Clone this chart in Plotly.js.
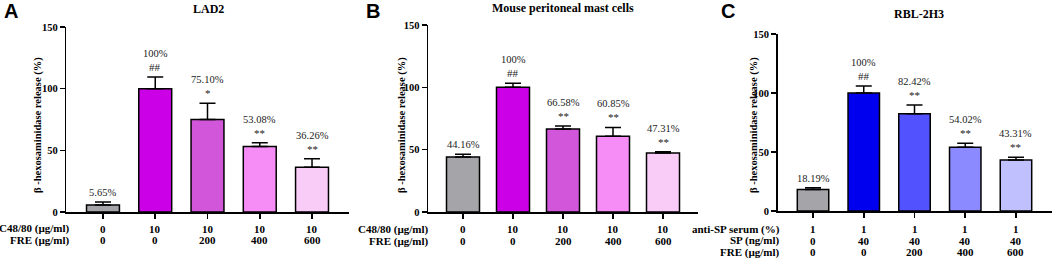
<!DOCTYPE html>
<html>
<head>
<meta charset="utf-8">
<script src="https://cdn.plot.ly/plotly-3.0.1.min.js"></script>
<style>html,body{margin:0;padding:0;background:#fff;}#chart{width:1052px;height:262px;}</style>
</head>
<body>
<div id="chart"></div>
<script>
// ---- data ----
const groups = [0, 1, 2, 3, 4];

const titleA = 'LAD2';
const valsA = [5.65, 100, 75.10, 53.08, 36.26];
const errA = [2.5, 9.5, 13, 3, 7];
const pctA = ['5.65%', '100%', '75.10%', '53.08%', '36.26%'];
const sigA = ['', '##', '*', '**', '**'];
const rowHeadA = ['C48/80 (µg/ml)', 'FRE (µg/ml)'];
const c4880A = ['0', '10', '10', '10', '10'];
const freA = ['0', '0', '200', '400', '600'];

const titleB = 'Mouse peritoneal mast cells';
const valsB = [44.16, 100, 66.58, 60.85, 47.31];
const errB = [2.1, 3.2, 2.4, 7, 1];
const pctB = ['44.16%', '100%', '66.58%', '60.85%', '47.31%'];
const sigB = ['', '##', '**', '**', '**'];
const rowHeadB = ['C48/80 (µg/ml)', 'FRE (µg/ml)'];
const c4880B = ['0', '10', '10', '10', '10'];
const freB = ['0', '0', '200', '400', '600'];

const titleC = 'RBL-2H3';
const valsC = [18.19, 100, 82.42, 54.02, 43.31];
const errC = [1.5, 6, 7.4, 3.4, 2.2];
const pctC = ['18.19%', '100%', '82.42%', '54.02%', '43.31%'];
const sigC = ['', '##', '**', '**', '**'];
const rowHeadC = ['anti-SP serum (%)', 'SP (ng/ml)', 'FRE (µg/ml)'];
const antiSPC = ['1', '1', '1', '1', '1'];
const spC = ['0', '40', '40', '40', '40'];
const freC = ['0', '0', '200', '400', '600'];

const yTitle = 'β -hexosaminidase release (%)';
const yTicks = [0, 50, 100, 150];

// ---- styles ----
const colorsPink = ['#a4a4a9', '#cc00e6', '#d156d9', '#f68cf6', '#f9ccf8'];
const colorsBlue = ['#a4a4a9', '#0000ee', '#5252ff', '#8b8bff', '#c0c0ff'];
const SERIF = 'Liberation Serif, Times New Roman, serif';
const SANS = 'Liberation Sans, Arial, sans-serif';
const W = 1052, H = 262;
const px = v => v / W;
const py = v => (H - v) / H;

const panels = [
  {key: '', letter: 'A', letterX: 11, title: titleA, titleX: 208, titleY: 9, vals: valsA, err: errA, pct: pctA, sig: sigA,
   colors: colorsPink, heads: rowHeadA, rows: [c4880A, freA], rowY: [228.5, 240], headX: 72,
   xdom: [66.4, 348.6], ytop: 27, ybot: 212, yTitleX: 38, bw: 0.63},
  {key: '2', letter: 'B', letterX: 373, title: titleB, titleX: 563, titleY: 8, vals: valsB, err: errB, pct: pctB, sig: sigB,
   colors: colorsPink, heads: rowHeadB, rows: [c4880B, freB], rowY: [229, 241], headX: 431,
   xdom: [428, 698], ytop: 25, ybot: 212, yTitleX: 402, bw: 0.66},
  {key: '3', letter: 'C', letterX: 728, title: titleC, titleX: 919, titleY: 14, vals: valsC, err: errC, pct: pctC, sig: sigC,
   colors: colorsBlue, heads: rowHeadC, rows: [antiSPC, spC, freC], rowY: [229, 240.5, 252], headX: 782,
   xdom: [777.5, 1051.5], ytop: 34, ybot: 211, yTitleX: 754, bw: 0.62}
];

const data = [];
const annotations = [];
const layout = {
  width: W, height: H,
  margin: {l: 0, r: 0, t: 0, b: 0},
  paper_bgcolor: '#fff', plot_bgcolor: '#fff',
  showlegend: false,
  font: {family: SERIF, color: '#000', size: 10},
  annotations: annotations
};

panels.forEach(p => {
  const xa = 'x' + p.key, ya = 'y' + p.key;
  data.push({
    type: 'bar', x: groups, y: p.vals, width: p.bw,
    xaxis: xa, yaxis: ya,
    marker: {color: p.colors, line: {color: '#000', width: 1.5}},
    error_y: {type: 'data', symmetric: false, array: p.err, arrayminus: p.vals.map(() => 0),
              color: '#000', thickness: 1.5, width: 8},
    hoverinfo: 'none'
  });
  layout['xaxis' + p.key] = {
    domain: [px(p.xdom[0]), Math.min(1, px(p.xdom[1]))],
    anchor: ya, range: [-0.7, 4.7], fixedrange: true,
    showline: true, linecolor: '#000', linewidth: 1.5,
    ticks: 'outside', ticklen: 5, tickwidth: 1.5, tickcolor: '#000',
    tickvals: groups, showticklabels: false,
    showgrid: false, zeroline: false
  };
  layout['yaxis' + p.key] = {
    domain: [py(p.ybot), py(p.ytop)],
    anchor: xa, range: [0, 150], fixedrange: true,
    showline: true, linecolor: '#000', linewidth: 1.5,
    ticks: 'outside', ticklen: 5, tickwidth: 1.5, tickcolor: '#000',
    tickvals: yTicks, tickfont: {family: SERIF, size: 10.5, weight: 'bold', color: '#000'},
    showgrid: false, zeroline: false
  };
  // panel letter
  annotations.push({xref: 'paper', yref: 'paper', x: px(p.letterX), y: py(11.5), xanchor: 'center', yanchor: 'middle',
    text: '<b>' + p.letter + '</b>', showarrow: false, font: {family: SANS, size: 20, color: '#000'}});
  // panel title
  annotations.push({xref: 'paper', yref: 'paper', x: px(p.titleX), y: py(p.titleY), xanchor: 'center', yanchor: 'middle',
    text: '<b>' + p.title + '</b>', showarrow: false, font: {family: SERIF, size: 12, color: '#000'}});
  // y-axis title
  annotations.push({xref: 'paper', yref: 'paper', x: px(p.yTitleX), y: py(125), xanchor: 'center', yanchor: 'middle',
    textangle: -90, text: '<b>' + yTitle + '</b>', showarrow: false, font: {family: SERIF, size: 10.5, color: '#000'}});
  // bar labels
  groups.forEach((g, i) => {
    const top = p.vals[i] + p.err[i];
    if (p.sig[i]) {
      annotations.push({xref: xa, yref: ya, x: g, y: top, xanchor: 'center', yanchor: 'bottom', yshift: 2,
        text: p.sig[i], showarrow: false, font: {family: SERIF, size: 11, color: '#222'}});
      annotations.push({xref: xa, yref: ya, x: g, y: top, xanchor: 'center', yanchor: 'bottom', yshift: 16,
        text: p.pct[i], showarrow: false, font: {family: SERIF, size: 10.5, color: '#222'}});
    } else {
      annotations.push({xref: xa, yref: ya, x: g, y: top, xanchor: 'center', yanchor: 'bottom', yshift: 2,
        text: p.pct[i], showarrow: false, font: {family: SERIF, size: 10.5, color: '#222'}});
    }
  });
  // treatment rows under the axis
  p.rows.forEach((row, r) => {
    annotations.push({xref: 'paper', yref: 'paper', x: px(p.headX), y: py(p.rowY[r]), xanchor: 'right', yanchor: 'middle',
      text: '<b>' + p.heads[r] + '</b>', showarrow: false, font: {family: SERIF, size: 11, color: '#000'}});
    groups.forEach((g, i) => {
      annotations.push({xref: xa, yref: 'paper', x: g, y: py(p.rowY[r]), xanchor: 'center', yanchor: 'middle',
        text: '<b>' + row[i] + '</b>', showarrow: false, font: {family: SERIF, size: 11, color: '#000'}});
    });
  });
});

Plotly.newPlot('chart', data, layout, {staticPlot: true, displayModeBar: false});
</script>
</body>
</html>
